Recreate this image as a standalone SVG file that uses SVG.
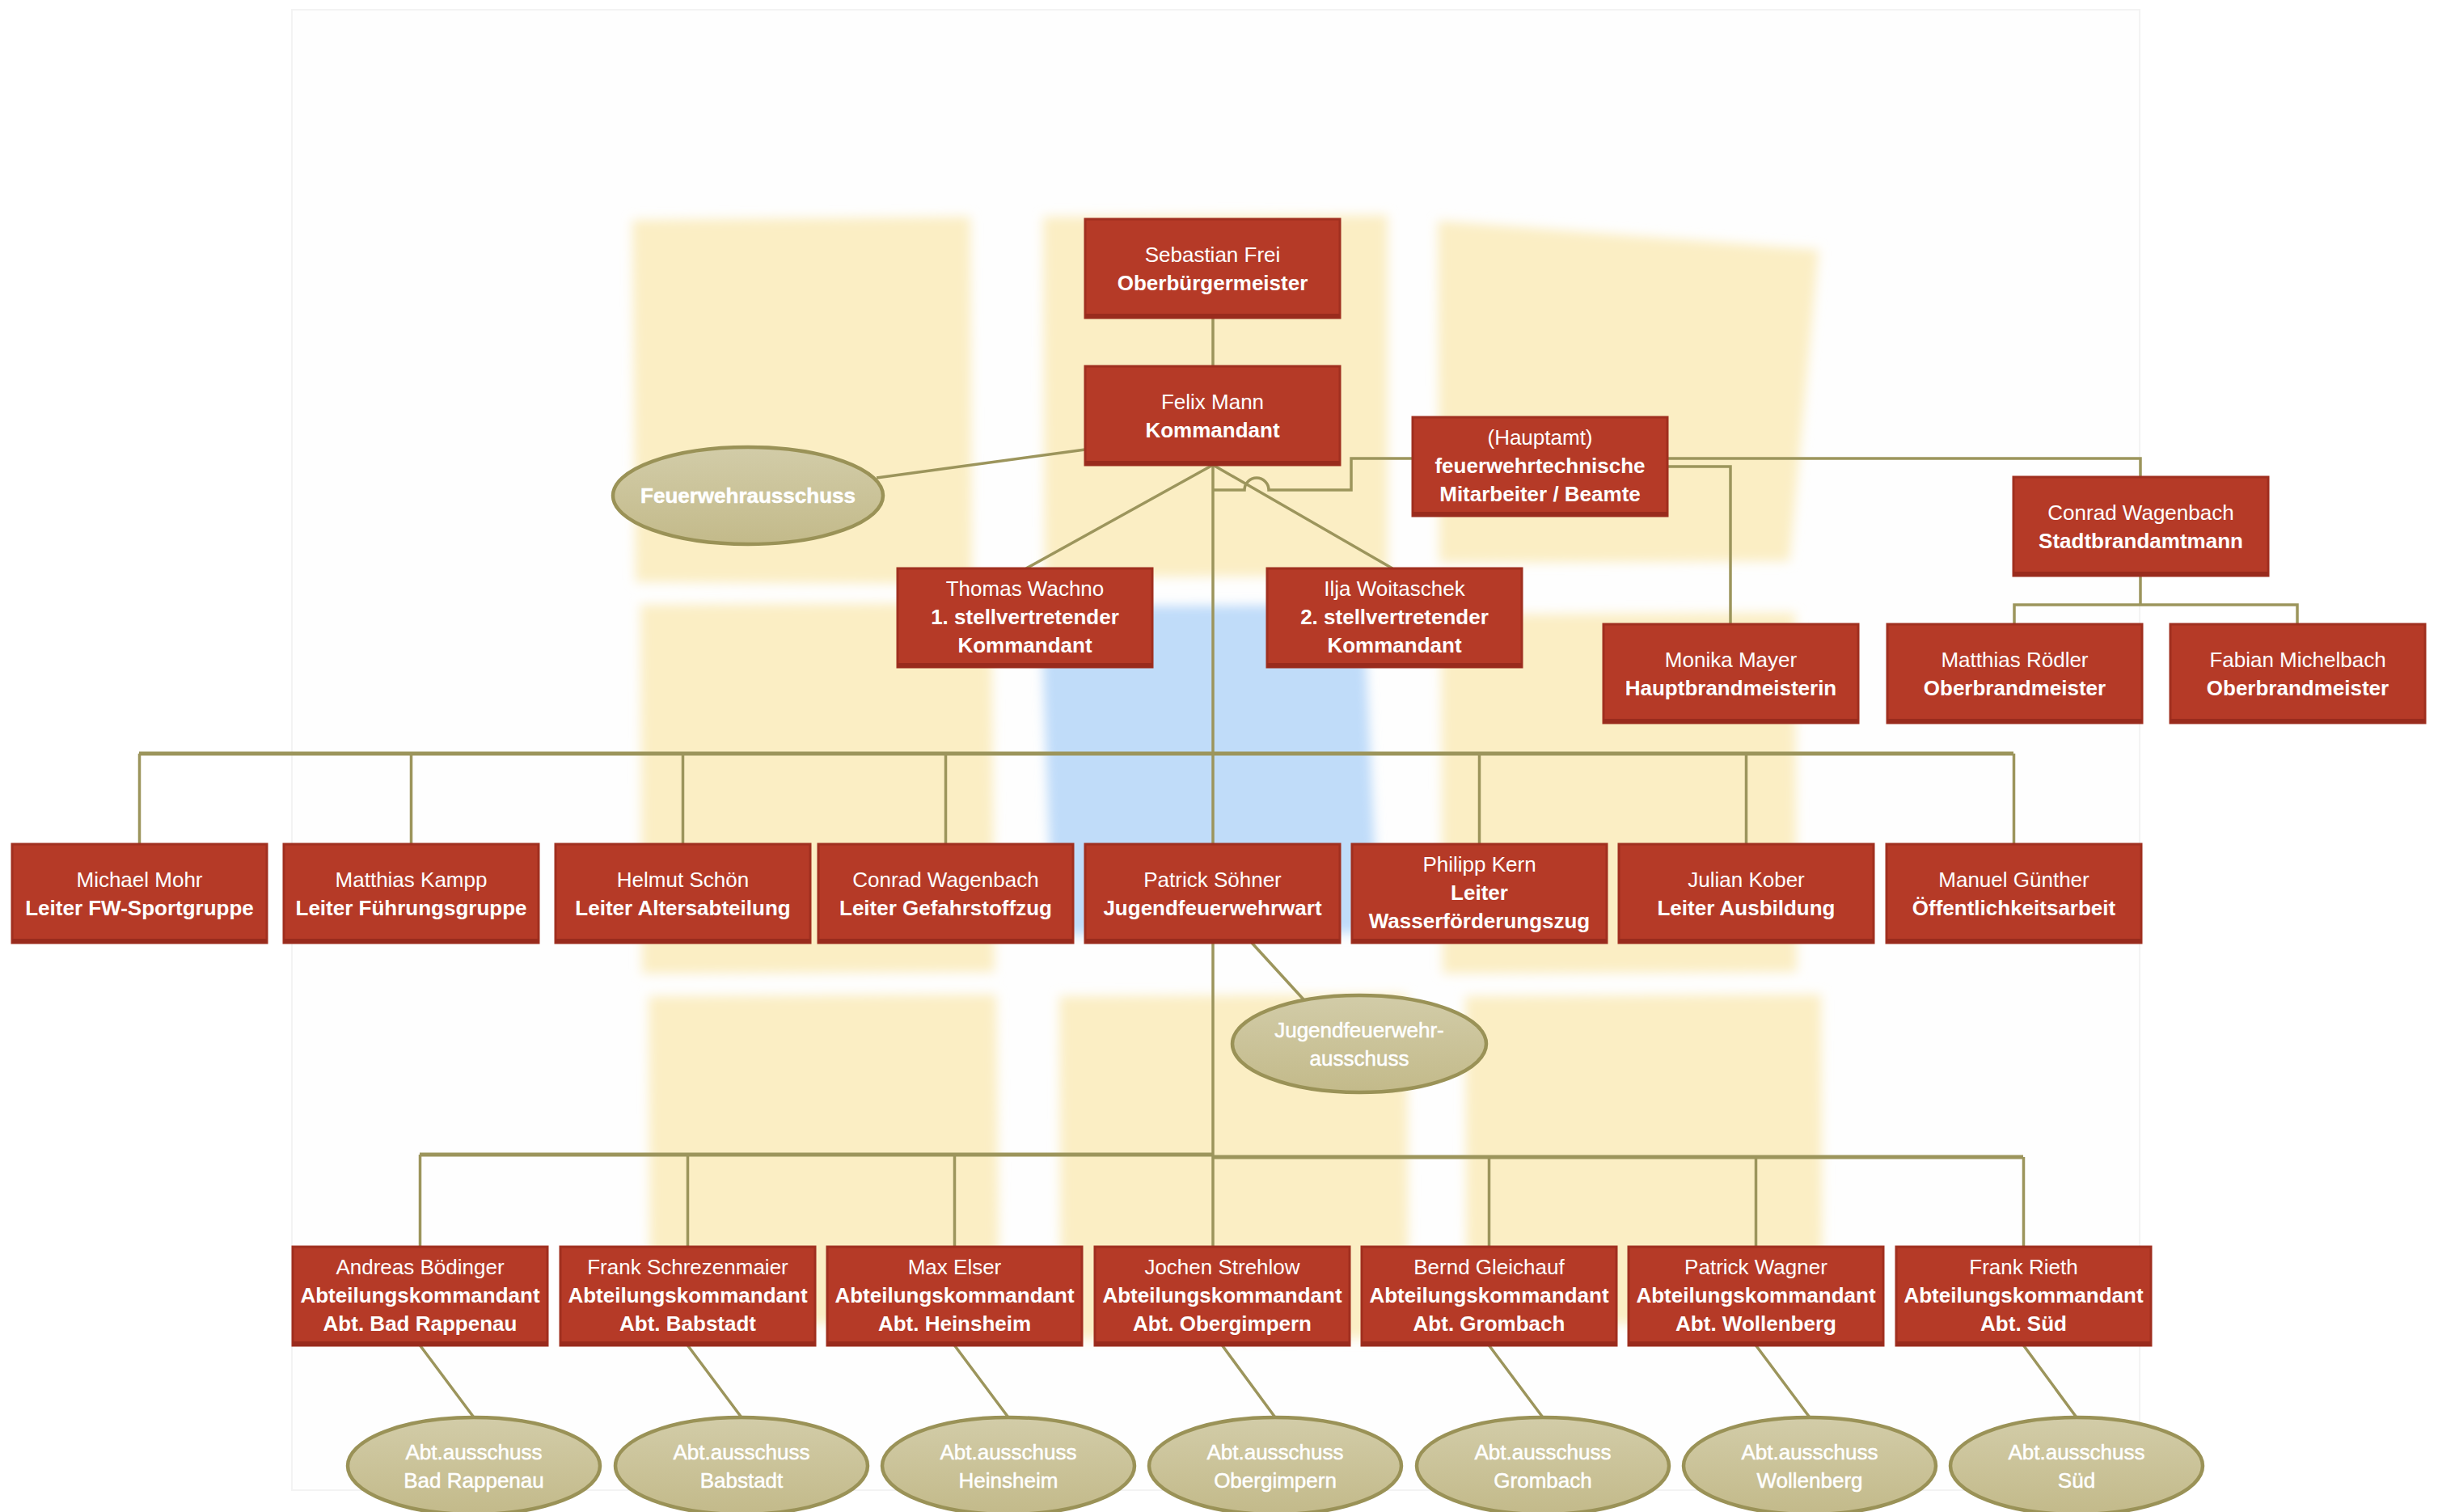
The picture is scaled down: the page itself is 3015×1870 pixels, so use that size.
<svg xmlns="http://www.w3.org/2000/svg" width="3015" height="1870" viewBox="0 0 3015 1870">
<defs>
<style>
.box{fill:#B53A27;stroke:#A02F1F;stroke-width:3}
.sh{fill:#992B1D}
.t{font-family:"Liberation Sans",Arial,sans-serif;font-size:26px;fill:#FFFFFF;text-anchor:middle}
.b{font-weight:bold}
.el{fill:url(#eg);stroke:#9A9257;stroke-width:4.5}
.et{font-family:"Liberation Sans",Arial,sans-serif;font-size:26px;fill:#FFFFFF;stroke:#FFFFFF;stroke-width:0.5;text-anchor:middle}
.c{fill:none;stroke:#9C955C;stroke-width:3.5}
.bus{fill:none;stroke:#9C955C;stroke-width:5}
.y{fill:#FBEEC4}
</style>
<linearGradient id="eg" x1="0" y1="0" x2="0" y2="1">
<stop offset="0" stop-color="#D2CCA8"/>
<stop offset="1" stop-color="#C3BA8A"/>
</linearGradient>
<filter id="blur" x="-10%" y="-10%" width="120%" height="120%"><feGaussianBlur stdDeviation="7"/></filter>
</defs>
<rect width="3015" height="1870" fill="#FFFFFF"/>
<g id="background">
<rect x="361" y="12" width="2285" height="1831" fill="#FEFEFE" stroke="#F3F3F3" stroke-width="2"/>
<g filter="url(#blur)">
<polygon class="y" points="782,272 1200,268 1202,722 786,720"/>
<polygon class="y" points="1290,268 1716,266 1716,712 1292,714"/>
<polygon class="y" points="1778,273 2249,309 2213,694 1780,696"/>
<polygon class="y" points="792,748 1226,746 1230,1202 794,1204"/>
<polygon fill="#C0DCF9" points="1287,750 1686,748 1705,1154 1302,1156"/>
<polygon class="y" points="1782,760 2220,758 2222,1202 1784,1204"/>
<polygon class="y" points="802,1232 1232,1230 1236,1636 804,1638"/>
<polygon class="y" points="1310,1232 1740,1230 1742,1655 1312,1656"/>
<polygon class="y" points="1812,1232 2252,1230 2254,1636 1814,1638"/>
</g>
</g>
<g id="connectors">
<path class="c" d="M1500,394 V453"/>
<path class="c" d="M1342,556 L1084,591"/>
<path class="c" d="M1500,575 V1044"/>
<path class="c" d="M1500,575 L1269,703"/>
<path class="c" d="M1500,575 L1722,703"/>
<path class="c" d="M1500,606 H1539 A15,15 0 0 1 1569,606 H1671 V567 H1747"/>
<path class="c" d="M2062,567 H2647 V590"/>
<path class="c" d="M2062,577 H2140 V772"/>
<path class="c" d="M2647,712 V748"/>
<path class="c" d="M2491,772 V748 H2841 V772"/>
<path class="bus" d="M172,932 H2490"/>
<path class="c" d="M172.5,932 V1044 M508.5,932 V1044 M844.5,932 V1044 M1169.5,932 V1044 M1829.5,932 V1044 M2159.5,932 V1044 M2490.5,932 V1044"/>
<path class="c" d="M1500,1166 V1542"/>
<path class="c" d="M1548,1166 L1612,1236"/>
<path class="bus" d="M519,1428 H1500"/>
<path class="bus" d="M1500,1431 H2502"/>
<path class="c" d="M519.5,1428 V1542 M850.5,1428 V1542 M1180.5,1428 V1542 M1841.5,1431 V1542 M2171.5,1431 V1542 M2502.5,1431 V1542"/>
<path class="c" d="M519.5,1664 L586,1753 M850.5,1664 L917,1753 M1180.5,1664 L1247,1753 M1511.5,1664 L1577,1753 M1841.5,1664 L1908,1753 M2171.5,1664 L2238,1753 M2502.5,1664 L2568,1753"/>
</g>
<g id="n-frei"><rect class="box" x="1342" y="271" width="315" height="122"/><rect class="sh" x="1342" y="388" width="315" height="6"/><text class="t"><tspan x="1499.5" y="324">Sebastian Frei</tspan><tspan class="b" x="1499.5" y="359">Oberbürgermeister</tspan></text></g>
<g id="n-mann"><rect class="box" x="1342" y="453" width="315" height="122"/><rect class="sh" x="1342" y="570" width="315" height="6"/><text class="t"><tspan x="1499.5" y="506">Felix Mann</tspan><tspan class="b" x="1499.5" y="541">Kommandant</tspan></text></g>
<g id="n-feuerwehrausschuss"><ellipse class="el" cx="925" cy="613" rx="167" ry="60"/><text class="et b" x="925" y="622">Feuerwehrausschuss</text></g>
<g id="n-hauptamt"><rect class="box" x="1747" y="516" width="315" height="122"/><rect class="sh" x="1747" y="633" width="315" height="6"/><text class="t"><tspan x="1904.5" y="550">(Hauptamt)</tspan><tspan class="b" x="1904.5" y="585">feuerwehrtechnische</tspan><tspan class="b" x="1904.5" y="620">Mitarbeiter / Beamte</tspan></text></g>
<g id="n-stadtbrandamtmann"><rect class="box" x="2490" y="590" width="315" height="122"/><rect class="sh" x="2490" y="707" width="315" height="6"/><text class="t"><tspan x="2647.5" y="643">Conrad Wagenbach</tspan><tspan class="b" x="2647.5" y="678">Stadtbrandamtmann</tspan></text></g>
<g id="n-wachno"><rect class="box" x="1110" y="703" width="315" height="122"/><rect class="sh" x="1110" y="820" width="315" height="6"/><text class="t"><tspan x="1267.5" y="737">Thomas Wachno</tspan><tspan class="b" x="1267.5" y="772">1. stellvertretender</tspan><tspan class="b" x="1267.5" y="807">Kommandant</tspan></text></g>
<g id="n-woitaschek"><rect class="box" x="1567" y="703" width="315" height="122"/><rect class="sh" x="1567" y="820" width="315" height="6"/><text class="t"><tspan x="1724.5" y="737">Ilja Woitaschek</tspan><tspan class="b" x="1724.5" y="772">2. stellvertretender</tspan><tspan class="b" x="1724.5" y="807">Kommandant</tspan></text></g>
<g id="n-mayer"><rect class="box" x="1983" y="772" width="315" height="122"/><rect class="sh" x="1983" y="889" width="315" height="6"/><text class="t"><tspan x="2140.5" y="825">Monika Mayer</tspan><tspan class="b" x="2140.5" y="860">Hauptbrandmeisterin</tspan></text></g>
<g id="n-roedler"><rect class="box" x="2334" y="772" width="315" height="122"/><rect class="sh" x="2334" y="889" width="315" height="6"/><text class="t"><tspan x="2491.5" y="825">Matthias Rödler</tspan><tspan class="b" x="2491.5" y="860">Oberbrandmeister</tspan></text></g>
<g id="n-michelbach"><rect class="box" x="2684" y="772" width="315" height="122"/><rect class="sh" x="2684" y="889" width="315" height="6"/><text class="t"><tspan x="2841.5" y="825">Fabian Michelbach</tspan><tspan class="b" x="2841.5" y="860">Oberbrandmeister</tspan></text></g>
<g id="n-mohr"><rect class="box" x="15" y="1044" width="315" height="122"/><rect class="sh" x="15" y="1161" width="315" height="6"/><text class="t"><tspan x="172.5" y="1097">Michael Mohr</tspan><tspan class="b" x="172.5" y="1132">Leiter FW-Sportgruppe</tspan></text></g>
<g id="n-kampp"><rect class="box" x="351" y="1044" width="315" height="122"/><rect class="sh" x="351" y="1161" width="315" height="6"/><text class="t"><tspan x="508.5" y="1097">Matthias Kampp</tspan><tspan class="b" x="508.5" y="1132">Leiter Führungsgruppe</tspan></text></g>
<g id="n-schoen"><rect class="box" x="687" y="1044" width="315" height="122"/><rect class="sh" x="687" y="1161" width="315" height="6"/><text class="t"><tspan x="844.5" y="1097">Helmut Schön</tspan><tspan class="b" x="844.5" y="1132">Leiter Altersabteilung</tspan></text></g>
<g id="n-wagenbach2"><rect class="box" x="1012" y="1044" width="315" height="122"/><rect class="sh" x="1012" y="1161" width="315" height="6"/><text class="t"><tspan x="1169.5" y="1097">Conrad Wagenbach</tspan><tspan class="b" x="1169.5" y="1132">Leiter Gefahrstoffzug</tspan></text></g>
<g id="n-soehner"><rect class="box" x="1342" y="1044" width="315" height="122"/><rect class="sh" x="1342" y="1161" width="315" height="6"/><text class="t"><tspan x="1499.5" y="1097">Patrick Söhner</tspan><tspan class="b" x="1499.5" y="1132">Jugendfeuerwehrwart</tspan></text></g>
<g id="n-kern"><rect class="box" x="1672" y="1044" width="315" height="122"/><rect class="sh" x="1672" y="1161" width="315" height="6"/><text class="t"><tspan x="1829.5" y="1078">Philipp Kern</tspan><tspan class="b" x="1829.5" y="1113">Leiter</tspan><tspan class="b" x="1829.5" y="1148">Wasserförderungszug</tspan></text></g>
<g id="n-kober"><rect class="box" x="2002" y="1044" width="315" height="122"/><rect class="sh" x="2002" y="1161" width="315" height="6"/><text class="t"><tspan x="2159.5" y="1097">Julian Kober</tspan><tspan class="b" x="2159.5" y="1132">Leiter Ausbildung</tspan></text></g>
<g id="n-guenther"><rect class="box" x="2333" y="1044" width="315" height="122"/><rect class="sh" x="2333" y="1161" width="315" height="6"/><text class="t"><tspan x="2490.5" y="1097">Manuel Günther</tspan><tspan class="b" x="2490.5" y="1132">Öffentlichkeitsarbeit</tspan></text></g>
<g id="n-jfausschuss"><ellipse class="el" cx="1681" cy="1291" rx="157" ry="60"/><text class="et"><tspan x="1681" y="1283">Jugendfeuerwehr-</tspan><tspan x="1681" y="1318">ausschuss</tspan></text></g>
<g id="n-boedinger"><rect class="box" x="362" y="1542" width="315" height="122"/><rect class="sh" x="362" y="1659" width="315" height="6"/><text class="t"><tspan x="519.5" y="1576">Andreas Bödinger</tspan><tspan class="b" x="519.5" y="1611">Abteilungskommandant</tspan><tspan class="b" x="519.5" y="1646">Abt. Bad Rappenau</tspan></text></g>
<g id="n-schrezenmaier"><rect class="box" x="693" y="1542" width="315" height="122"/><rect class="sh" x="693" y="1659" width="315" height="6"/><text class="t"><tspan x="850.5" y="1576">Frank Schrezenmaier</tspan><tspan class="b" x="850.5" y="1611">Abteilungskommandant</tspan><tspan class="b" x="850.5" y="1646">Abt. Babstadt</tspan></text></g>
<g id="n-elser"><rect class="box" x="1023" y="1542" width="315" height="122"/><rect class="sh" x="1023" y="1659" width="315" height="6"/><text class="t"><tspan x="1180.5" y="1576">Max Elser</tspan><tspan class="b" x="1180.5" y="1611">Abteilungskommandant</tspan><tspan class="b" x="1180.5" y="1646">Abt. Heinsheim</tspan></text></g>
<g id="n-strehlow"><rect class="box" x="1354" y="1542" width="315" height="122"/><rect class="sh" x="1354" y="1659" width="315" height="6"/><text class="t"><tspan x="1511.5" y="1576">Jochen Strehlow</tspan><tspan class="b" x="1511.5" y="1611">Abteilungskommandant</tspan><tspan class="b" x="1511.5" y="1646">Abt. Obergimpern</tspan></text></g>
<g id="n-gleichauf"><rect class="box" x="1684" y="1542" width="315" height="122"/><rect class="sh" x="1684" y="1659" width="315" height="6"/><text class="t"><tspan x="1841.5" y="1576">Bernd Gleichauf</tspan><tspan class="b" x="1841.5" y="1611">Abteilungskommandant</tspan><tspan class="b" x="1841.5" y="1646">Abt. Grombach</tspan></text></g>
<g id="n-wagner"><rect class="box" x="2014" y="1542" width="315" height="122"/><rect class="sh" x="2014" y="1659" width="315" height="6"/><text class="t"><tspan x="2171.5" y="1576">Patrick Wagner</tspan><tspan class="b" x="2171.5" y="1611">Abteilungskommandant</tspan><tspan class="b" x="2171.5" y="1646">Abt. Wollenberg</tspan></text></g>
<g id="n-rieth"><rect class="box" x="2345" y="1542" width="315" height="122"/><rect class="sh" x="2345" y="1659" width="315" height="6"/><text class="t"><tspan x="2502.5" y="1576">Frank Rieth</tspan><tspan class="b" x="2502.5" y="1611">Abteilungskommandant</tspan><tspan class="b" x="2502.5" y="1646">Abt. Süd</tspan></text></g>
<g id="n-aa-badrappenau"><ellipse class="el" cx="586" cy="1813" rx="156" ry="60"/><text class="et"><tspan x="586" y="1805">Abt.ausschuss</tspan><tspan x="586" y="1840">Bad Rappenau</tspan></text></g>
<g id="n-aa-babstadt"><ellipse class="el" cx="917" cy="1813" rx="156" ry="60"/><text class="et"><tspan x="917" y="1805">Abt.ausschuss</tspan><tspan x="917" y="1840">Babstadt</tspan></text></g>
<g id="n-aa-heinsheim"><ellipse class="el" cx="1247" cy="1813" rx="156" ry="60"/><text class="et"><tspan x="1247" y="1805">Abt.ausschuss</tspan><tspan x="1247" y="1840">Heinsheim</tspan></text></g>
<g id="n-aa-obergimpern"><ellipse class="el" cx="1577" cy="1813" rx="156" ry="60"/><text class="et"><tspan x="1577" y="1805">Abt.ausschuss</tspan><tspan x="1577" y="1840">Obergimpern</tspan></text></g>
<g id="n-aa-grombach"><ellipse class="el" cx="1908" cy="1813" rx="156" ry="60"/><text class="et"><tspan x="1908" y="1805">Abt.ausschuss</tspan><tspan x="1908" y="1840">Grombach</tspan></text></g>
<g id="n-aa-wollenberg"><ellipse class="el" cx="2238" cy="1813" rx="156" ry="60"/><text class="et"><tspan x="2238" y="1805">Abt.ausschuss</tspan><tspan x="2238" y="1840">Wollenberg</tspan></text></g>
<g id="n-aa-sued"><ellipse class="el" cx="2568" cy="1813" rx="156" ry="60"/><text class="et"><tspan x="2568" y="1805">Abt.ausschuss</tspan><tspan x="2568" y="1840">Süd</tspan></text></g>
</svg>
